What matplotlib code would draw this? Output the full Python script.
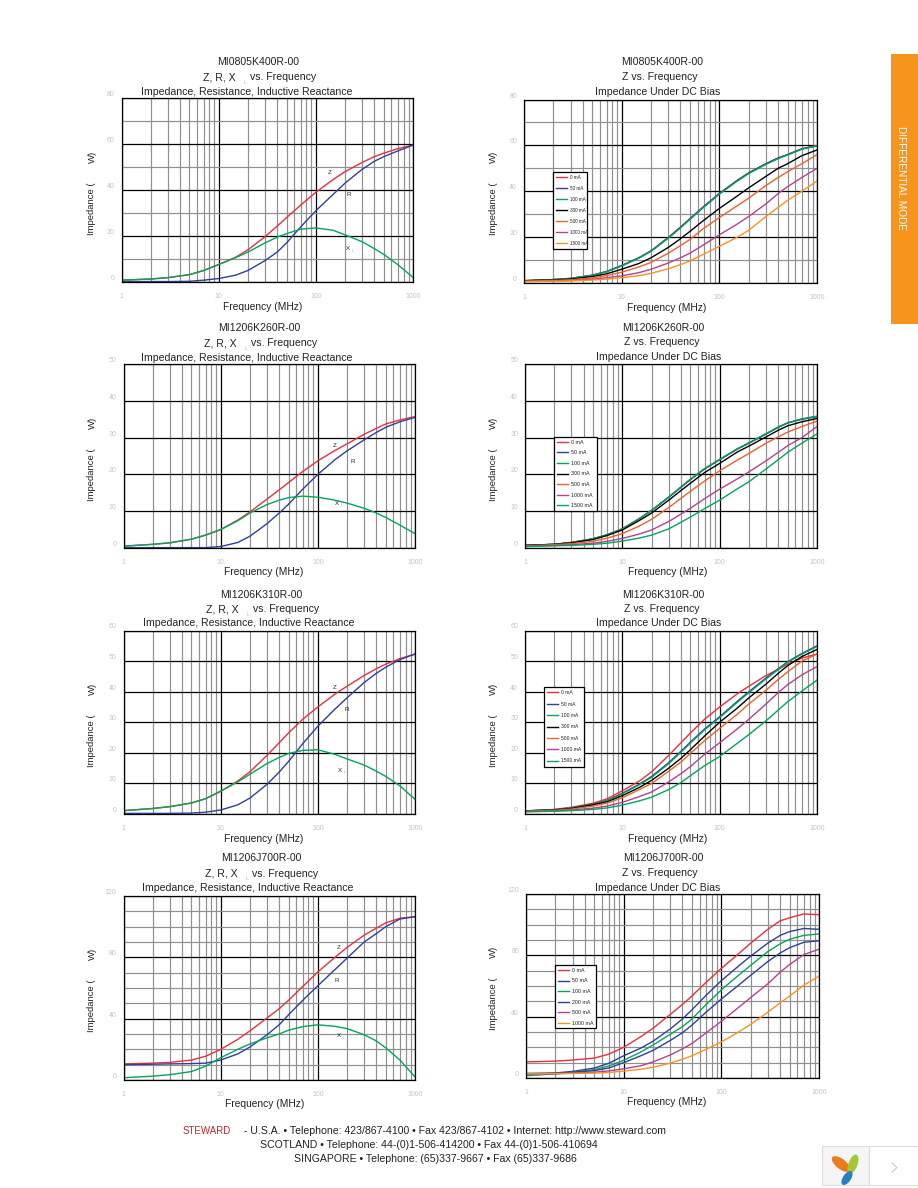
import matplotlib
matplotlib.use("Agg")
import matplotlib.pyplot as plt
from matplotlib.patches import Rectangle, Ellipse

plt.rcParams['font.family'] = ['Liberation Sans', 'DejaVu Sans']

W = 918
H = 1188

freq = [1, 2, 3, 5, 7, 10, 15, 20, 30, 40, 50, 70, 100, 150, 200, 300, 400, 500, 700, 1000]

# MI0805K400R-00
k400_z = [0.8, 1.3, 1.9, 3.2, 5, 7.6, 10.8, 14, 19.7, 24.3, 28, 33.5, 39, 44.5, 48, 52, 54.5, 56, 58, 59.5]
k400_r = [0.2, 0.2, 0.2, 0.3, 0.8, 1.5, 3, 5, 9.3, 13, 17, 24, 31, 38, 43, 49, 52.5, 54.5, 57, 59.5]
k400_x = [0.8, 1.3, 1.9, 3.2, 5, 7.6, 10.6, 13, 17, 19.5, 21, 23, 23.5, 22.5, 20.5, 17.5, 14.5, 12, 7.5, 2]
k400_0 = [1, 1.5, 2, 3.4, 5, 7.6, 11, 14, 19.8, 24.3, 28, 33.5, 39, 44.5, 48, 52, 54.5, 56, 58.5, 60]
k400_50 = [1, 1.5, 2, 3.4, 5, 7.6, 11, 14, 19.8, 24.3, 28, 33.5, 39, 44.5, 48, 52, 54.5, 56, 58.5, 59.8]
k400_100 = [1, 1.5, 2, 3.3, 4.9, 7.4, 10.8, 13.8, 19.5, 24, 27.7, 33.2, 38.7, 44.2, 47.7, 51.7, 54.2, 55.8, 58.3, 59.8]
k400_300 = [1, 1.3, 1.7, 2.8, 4, 6, 8.5, 11, 15.5, 19.3, 22.5, 27.5, 32.5, 37.7, 41.5, 46.5, 50, 52, 55.5, 58]
k400_500 = [0.8, 1.1, 1.4, 2.2, 3.2, 4.7, 7, 9, 13, 16.3, 19, 24, 28.5, 33.5, 37, 42.5, 46, 48.5, 52, 56]
k400_1000 = [0.7, 0.9, 1.1, 1.6, 2.3, 3.1, 4.5, 6, 8.7, 11, 13, 16.8, 21, 25.5, 29, 34.5, 39, 42, 46, 50]
k400_1500 = [0.6, 0.8, 0.9, 1.3, 1.7, 2.3, 3.2, 4.2, 6.2, 8, 9.6, 12.7, 16, 19.8, 23, 29, 33, 36, 40, 44.5]

# MI1206K260R-00
k260_z = [0.5, 1, 1.4, 2.4, 3.5, 5, 7.6, 9.8, 13.3, 15.8, 17.8, 20.8, 23.7, 26.5, 28.3, 30.9, 32.5, 33.7, 34.8, 35.7]
k260_r = [0.1, 0.1, 0.1, 0.1, 0.1, 0.4, 1.5, 3.2, 6.6, 9.5, 11.9, 16, 20, 24, 26.4, 29.4, 31.4, 32.8, 34.3, 35.5]
k260_x = [0.5, 1, 1.4, 2.4, 3.5, 5, 7.4, 9.5, 11.8, 13, 13.7, 14.1, 13.8, 13, 12.2, 10.8, 9.5, 8.3, 6.2, 3.9]
k260_0 = [0.7, 1, 1.5, 2.5, 3.6, 5.2, 8, 10.2, 13.8, 16.5, 18.6, 21.5, 24, 26.8, 28.5, 31, 32.8, 34, 35, 35.8]
k260_50 = [0.7, 1, 1.5, 2.5, 3.6, 5.2, 8, 10.2, 13.8, 16.5, 18.6, 21.5, 24, 26.8, 28.5, 31, 32.8, 34, 35, 35.7]
k260_100 = [0.7, 1, 1.5, 2.5, 3.6, 5.2, 8, 10.3, 13.9, 16.6, 18.7, 21.6, 24.1, 26.9, 28.6, 31.1, 32.9, 34, 35.1, 35.8]
k260_300 = [0.7, 1, 1.4, 2.3, 3.4, 4.9, 7.5, 9.5, 13, 15.6, 17.6, 20.5, 23, 26, 27.7, 30.2, 32, 33.2, 34.3, 35.2]
k260_500 = [0.6, 0.9, 1.2, 1.8, 2.7, 3.9, 6, 7.8, 11, 13.5, 15.4, 18.2, 21, 23.8, 25.7, 28.5, 30.2, 31.5, 33, 34.5]
k260_1000 = [0.5, 0.7, 0.9, 1.3, 1.8, 2.6, 3.8, 4.9, 7.2, 9.2, 10.8, 13.4, 16, 18.7, 20.7, 23.7, 26, 27.8, 30, 33]
k260_1500 = [0.4, 0.6, 0.7, 1, 1.3, 1.9, 2.7, 3.5, 5.2, 7, 8.4, 10.7, 13, 16, 18, 21.5, 24, 26, 28.5, 31]

# MI1206K310R-00
k310_z = [1.1, 1.8, 2.4, 3.6, 5, 7.4, 10.8, 13.8, 19.2, 23.3, 26.5, 31, 35, 39.2, 41.8, 45.3, 47.5, 49, 50.8, 52.3]
k310_r = [0.2, 0.2, 0.2, 0.3, 0.6, 1.3, 3, 5.2, 9.7, 13.7, 17.2, 23, 28.7, 34.3, 38, 43, 46, 48, 50.5, 52.3]
k310_x = [1.1, 1.8, 2.4, 3.6, 5, 7.5, 10.5, 13, 16.5, 18.5, 19.8, 20.8, 21, 19.5, 18, 16, 14, 12.3, 9.2, 4.8]
k310_0 = [1, 1.5, 2.2, 3.5, 5, 7.6, 10.8, 13.8, 19.2, 23.3, 26.5, 31, 35, 39.2, 41.8, 45.3, 47.3, 49, 51, 52.3]
k310_50 = [1, 1.4, 2, 3.2, 4.5, 6.8, 9.8, 12.3, 16.8, 20.5, 23.5, 27.8, 31.8, 36.7, 40, 44.5, 47.5, 49.8, 52.5, 55]
k310_100 = [1, 1.4, 2, 3.1, 4.4, 6.6, 9.6, 12, 16.5, 20.2, 23.2, 27.5, 31.5, 36.4, 39.7, 44.2, 47.2, 49.6, 52.3, 54.8]
k310_300 = [1, 1.3, 1.8, 3, 4, 6, 8.7, 11, 15, 18.2, 21, 25.5, 30, 34.5, 38, 42.5, 46, 48.5, 51.5, 53.8]
k310_500 = [0.9, 1.2, 1.6, 2.6, 3.6, 5.3, 8, 10, 14, 17, 19.8, 24, 28, 32.5, 36, 40.5, 44, 46.5, 50, 52.3]
k310_1000 = [0.8, 1, 1.3, 1.9, 2.6, 3.8, 5.7, 7.2, 10.5, 13.2, 15.5, 19.5, 23.3, 27.7, 31, 36, 39.7, 42.3, 45.5, 48.2]
k310_1500 = [0.7, 0.9, 1.1, 1.5, 2, 2.9, 4.3, 5.5, 8, 10.3, 12.5, 15.8, 18.8, 23, 26, 30.5, 34, 36.7, 40.2, 43.8]

# MI1206J700R-00
j700_z = [10.5, 11, 11.5, 13, 15.5, 20, 26.5, 32, 40.5, 46.5, 52, 61, 70.5, 80, 86.5, 94.5, 99, 102.5, 105.5, 106.5]
j700_r = [10, 10.3, 10.5, 10.7, 11, 13, 17, 21.5, 29.5, 36, 42.5, 52, 61.5, 72, 79.5, 90, 95.5, 100, 105, 106.5]
j700_x = [1.5, 2.5, 3.5, 5.5, 9, 14.5, 20, 23.5, 27.5, 30, 32.5, 34.8, 36, 35, 33.5, 29.5, 25.5, 21, 13, 2]
j700_0 = [10.5, 11, 11.7, 13, 15.5, 20, 27, 32.5, 41.5, 48, 53.5, 62.5, 71.5, 81, 88, 97, 102.5, 104.5, 107, 106.5]
j700_50 = [3, 3.3, 4.3, 6.5, 9.5, 14.5, 19.5, 24, 32, 38.5, 44.5, 54, 63.5, 73, 79.5, 88, 93, 95.5, 97.5, 97]
j700_100 = [1.5, 2.7, 3.7, 5.5, 7.8, 11.5, 17, 21.5, 28.5, 33.5, 38.5, 48, 57.5, 67, 73.5, 82.5, 87.5, 90.5, 93, 94]
j700_200 = [2.5, 3, 3.7, 4.8, 6.5, 10, 14.5, 18, 24.5, 29.5, 34.5, 43, 51.5, 60.5, 67, 76, 81.5, 85, 88.5, 89.5]
j700_500 = [2.3, 2.7, 3.2, 3.8, 4.6, 6, 8, 10.5, 15, 19, 22.5, 29.5, 37, 46, 52.5, 61.5, 69, 74, 80.5, 84]
j700_1000 = [2.7, 2.9, 3, 3.2, 3.6, 4.5, 5.7, 7, 9.7, 12.2, 14.5, 18.8, 23.5, 30, 35, 43, 49, 53.5, 60.5, 66.5]

parts = ["MI0805K400R-00", "MI1206K260R-00", "MI1206K310R-00", "MI1206J700R-00"]
labels_a = ["0 mA", "50 mA", "100 mA", "300 mA", "500 mA", "1000 mA", "1500 mA"]
labels_b = ["0 mA", "50 mA", "100 mA", "200 mA", "500 mA", "1000 mA"]

RED = '#ed2f3c'
BLUE = '#2f3f9e'
GREEN = '#00a65a'
BLACK = '#000000'
ORANGERED = '#f2602a'
MAGENTA = '#b5418f'
ORANGE = '#f7941d'
GRID = '#8f8f8f'

fig = plt.figure(figsize=(W / 100, H / 100), dpi=100)

# page layer in pixel coordinates, for the tab and the corner logo
page = fig.add_axes([0, 0, 1, 1], zorder=-1)
page.set_xlim(0, W)
page.set_ylim(H, 0)
page.axis('off')


def fx(x):
    return x / W


def fy(y):
    return 1 - y / H


def put(x, y, s, size=7.6, **kw):
    kw.setdefault('ha', 'center')
    kw.setdefault('va', 'center')
    kw.setdefault('color', '#222222')
    return fig.text(fx(x), fy(y), s, fontsize=size, **kw)


def make_axes(box, ymax, major, minor):
    x0, x1, y0, y1 = box
    ax = fig.add_axes([fx(x0), fy(y1), (x1 - x0) / W, (y1 - y0) / H])
    ax.set_xscale('log')
    ax.set_xlim(1, 1000)
    ax.set_ylim(0, ymax)
    ax.set_xticks([1, 10, 100, 1000])
    ax.set_xticklabels(['1', '10', '100', '1000'])
    ax.set_xticks([m * d for d in (1, 10, 100) for m in range(2, 10)], minor=True)
    ax.set_xticklabels([], minor=True)
    ax.set_yticks(range(0, ymax + 1, major))
    if minor:
        ax.set_yticks([v for v in range(0, ymax + 1, minor) if v % major], minor=True)
    ax.grid(True, which='minor', color=GRID, lw=0.85, zorder=1)
    ax.grid(True, which='major', color='black', lw=0.9, zorder=2)
    ax.set_axisbelow(True)
    ax.tick_params(which='both', length=0)
    ax.tick_params(axis='x', labelsize=5, labelcolor='#c4c4c4', pad=8)
    ax.tick_params(axis='y', labelsize=5, labelcolor='#c4c4c4', pad=5)
    for lab in ax.get_yticklabels():
        lab.set_va('bottom')
    for s in ax.spines.values():
        s.set_linewidth(0.9)
        s.set_color('black')
    return ax


def y_label(x, bottom):
    put(x, bottom, "Impedance (", size=6.8, rotation=90, va='bottom')
    put(x, bottom - 72, "W)", size=6.8, rotation=90, va='bottom')


def left_chart(box, ymax, major, minor, z, r, x, part, tc, marks, xlab, ylab_bottom):
    ax = make_axes(box, ymax, major, minor)
    ax.plot(freq, z, color=RED, lw=1)
    ax.plot(freq, r, color=BLUE, lw=1)
    ax.plot(freq, x, color=GREEN, lw=1)
    for (mx, my), s in zip(marks, ['Z', 'R', 'X']):
        ax.text(mx, my, s, fontsize=4.5, ha='center', va='center', color='#222222')
    ax.annotate('L', xy=marks[2], xytext=(2.5, -1.5), textcoords='offset points',
                fontsize=3, color='#aaaaaa', va='center')
    put(tc[0][0], tc[0][1], part)
    cx, cy = tc[1]
    put(cx - 23, cy, "Z, R, X", ha='right')
    put(cx - 14, cy + 5, "L", size=3.5, color='#bbbbbb')
    put(cx - 9, cy, "vs. Frequency", ha='left')
    put(tc[2][0], tc[2][1], "Impedance, Resistance, Inductive Reactance")
    put(xlab[0], xlab[1], "Frequency (MHz)", size=7.4)
    y_label(92, ylab_bottom)


def right_chart(box, ymax, major, minor, series, labels, colors, part, tc, xlab, ylab_bottom, legbox, legsize):
    ax = make_axes(box, ymax, major, minor)
    for vals, lab, col in zip(series, labels, colors):
        ax.plot(freq, vals, color=col, lw=1, label=lab)
    x0, x1, y0, y1 = box
    lx0, lx1, ly0, ly1 = legbox
    anchor = ((lx0 - x0) / (x1 - x0), (y1 - ly1) / (y1 - y0),
              (lx1 - lx0) / (x1 - x0), (ly1 - ly0) / (y1 - y0))
    step = (ly1 - ly0) / len(labels)
    fs = legsize * 100 / 72
    text_h = 0.87 * fs
    leg = ax.legend(loc='upper left', bbox_to_anchor=anchor, mode='expand', borderaxespad=0,
                    fontsize=legsize, frameon=True, fancybox=False, framealpha=1,
                    edgecolor='black', borderpad=(step - text_h) / 2 / fs,
                    handlelength=11 / fs, handletextpad=3 / fs,
                    labelspacing=(step - text_h) / fs)
    leg.get_frame().set_linewidth(0.9)
    for t in leg.get_texts():
        t.set_color('#222222')
    put(tc[0][0], tc[0][1], part)
    put(tc[1][0], tc[1][1], "Z vs. Frequency")
    put(tc[2][0], tc[2][1], "Impedance Under DC Bias")
    put(xlab[0], xlab[1], "Frequency (MHz)", size=7.4)
    y_label(493, ylab_bottom)


colors_a = [RED, BLUE, GREEN, BLACK, ORANGERED, MAGENTA, ORANGE]
colors_b = [RED, BLUE, GREEN, BLACK, ORANGERED, MAGENTA, GREEN]
colors_c = [RED, BLUE, GREEN, BLUE, MAGENTA, ORANGE]

left_chart((121.5, 413, 98, 282), 80, 20, 10, k400_z, k400_r, k400_x, parts[0],
           [(258, 62), (259, 77), (247, 92)], [(139, 47.7), (220, 38), (213, 14.6)], (263, 307), 235)
left_chart((123.5, 415, 364, 548), 50, 10, 0, k260_z, k260_r, k260_x, parts[1],
           [(259, 328), (260, 343), (247, 358)], [(149, 27.9), (231, 23.5), (158, 12.2)], (264, 572), 501)
left_chart((123.5, 415, 630.5, 814), 60, 10, 0, k310_z, k310_r, k310_x, parts[2],
           [(261, 595), (262, 609), (249, 623)], [(149, 41.3), (200, 34.3), (170, 14.3)], (264, 839), 767)
left_chart((123.5, 415, 896, 1080), 120, 40, 10, j700_z, j700_r, j700_x, parts[3],
           [(261, 858), (261, 874), (248, 888)], [(165, 86.5), (158, 64.8), (165, 28.7)], (265, 1104), 1032)

right_chart((524, 817, 99.5, 283), 80, 20, 10,
            [k400_0, k400_50, k400_100, k400_300, k400_500, k400_1000, k400_1500],
            labels_a, colors_a, parts[0], [(662, 62), (660, 77), (658, 92)], (667, 308), 235,
            (553, 587, 172, 242), 3.3)
right_chart((525, 817, 364, 548), 50, 10, 0,
            [k260_0, k260_50, k260_100, k260_300, k260_500, k260_1000, k260_1500],
            labels_a, colors_b, parts[1], [(663, 328), (662, 342), (659, 357)], (668, 572), 501,
            (554, 597, 437, 508), 3.8)
right_chart((525, 817, 630.5, 814), 60, 10, 0,
            [k310_0, k310_50, k310_100, k310_300, k310_500, k310_1000, k310_1500],
            labels_a, colors_b, parts[2], [(663, 595), (662, 609), (659, 623)], (668, 839), 767,
            (544, 584, 687, 762), 3.6)
right_chart((526, 819, 894, 1078), 120, 40, 10,
            [j700_0, j700_50, j700_100, j700_200, j700_500, j700_1000],
            labels_b, colors_c, parts[3], [(663, 858), (660, 873), (658, 888)], (667, 1102), 1030,
            (555, 596, 965, 1026), 3.8)

# orange tab on the right
page.add_patch(Rectangle((891, 54), 27, 270, facecolor=ORANGE, edgecolor='none'))
put(901.5, 177.5, "DIFFERENTIAL MODE", size=7.2, color='white', rotation=270)

# footer
put(182.5, 1130.5, "STEWARD", size=7, color='#c4262e', ha='left')
put(244.5, 1130.5, "- U.S.A. \u2022 Telephone: 423/867-4100 \u2022 Fax 423/867-4102 \u2022 Internet: http://www.steward.com",
    size=7.6, ha='left')
put(260.5, 1144.5, "SCOTLAND \u2022 Telephone: 44-(0)1-506-414200 \u2022 Fax 44-(0)1-506-410694", size=7.6, ha='left')
put(294, 1159.5, "SINGAPORE \u2022 Telephone: (65)337-9667 \u2022 Fax (65)337-9686", size=7.6, ha='left')

# logo box in the corner
page.add_patch(Rectangle((822, 1146), 46.5, 39, facecolor='#f5f5f5', edgecolor='#dddddd', lw=0.8))
page.add_patch(Rectangle((868.5, 1146), 49.5, 39, facecolor='white', edgecolor='#dddddd', lw=0.8))
page.plot([892, 897, 892], [1163, 1167.5, 1172], color='#c8c8c8', lw=0.8)
page.add_patch(Ellipse((841, 1164), 22, 10, angle=38, facecolor='#ee7a1e', edgecolor='none'))
page.add_patch(Ellipse((853, 1164), 20, 9, angle=110, facecolor='#a5c63b', edgecolor='none'))
page.add_patch(Ellipse((847, 1178), 16, 8, angle=124, facecolor='#2a7fc4', edgecolor='none'))

fig.savefig('out.png', dpi=100)
